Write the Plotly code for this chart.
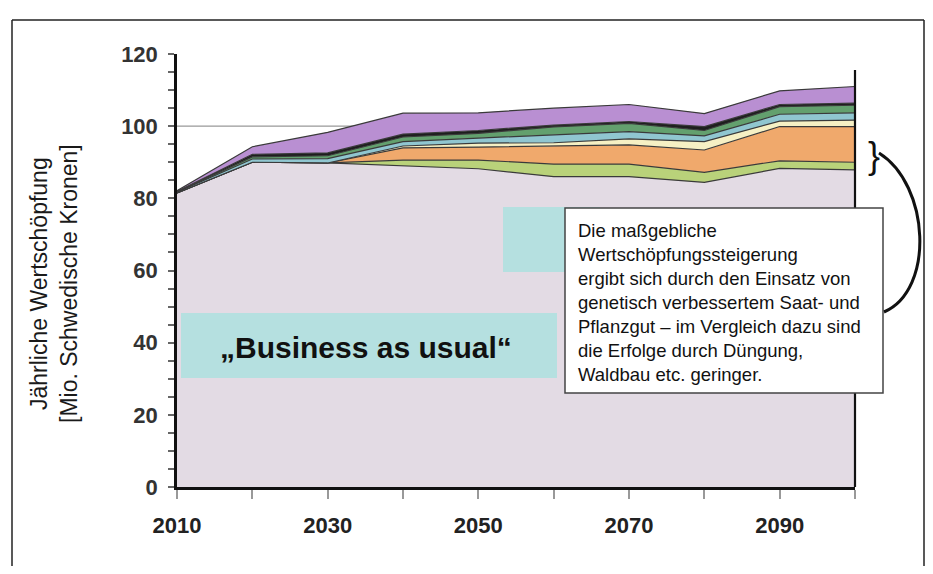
import plotly.graph_objects as go

# ---------------- data ----------------
years = [2010, 2020, 2030, 2040, 2050, 2060, 2070, 2080, 2090, 2100]
base_bau = [81.5, 90.0, 89.8, 88.9, 88.2, 86.0, 86.0, 84.4, 88.3, 87.9]
lime = [0.0, 0.0, 0.0, 1.7, 2.4, 3.5, 3.5, 2.8, 2.1, 2.1]
orange = [0.0, 0.0, 0.0, 3.4, 3.6, 5.0, 5.3, 6.2, 9.5, 9.9]
pale_yellow = [0.0, 0.0, 0.0, 0.5, 1.1, 0.9, 1.7, 2.3, 1.5, 1.8]
light_blue = [0.2, 0.9, 1.2, 1.2, 1.4, 2.1, 2.0, 1.6, 1.9, 2.0]
green = [0.1, 0.6, 0.8, 1.3, 1.3, 2.3, 2.3, 1.5, 2.1, 2.1]
black = [0.1, 0.7, 0.8, 0.8, 0.8, 0.5, 0.5, 1.1, 0.6, 0.6]
purple = [0.2, 2.1, 5.7, 5.8, 4.9, 4.7, 4.7, 3.6, 3.8, 4.6]

x_tick_vals = [2010, 2020, 2030, 2040, 2050, 2060, 2070, 2080, 2090, 2100]
x_tick_text = ["2010", "", "2030", "", "2050", "", "2070", "", "2090", ""]
y_tick_vals = [0, 20, 40, 60, 80, 100, 120]

y_title = "Jährliche Wertschöpfung<br>[Mio. Schwedische Kronen]"
bau_label = "„Business as usual“"
callout_lines = [
    "Die maßgebliche",
    "Wertschöpfungssteigerung",
    "ergibt sich durch den Einsatz von",
    "genetisch verbessertem Saat- und",
    "Pflanzgut – im Vergleich dazu sind",
    "die Erfolge durch Düngung,",
    "Waldbau etc. geringer.",
]

# ---------------- layout geometry (page pixels) ----------------
OFF = 8  # page body margin
W, H = 933 - OFF, 574 - 2 * OFF
L, R, T, B = 177, 855, 54, 487
PW, PH = R - L, B - T


def px(x):
    return (x - L) / PW


def py(y):
    return (B - y) / PH


layers = [
    (base_bau, "#e3dbe4"),
    (lime, "#b9d27a"),
    (orange, "#f0a96c"),
    (pale_yellow, "#f6f0c4"),
    (light_blue, "#90c6d0"),
    (green, "#63a06e"),
    (black, "#1e1e1e"),
    (purple, "#b98fd2"),
]

fig = go.Figure()
for vals, col in layers:
    fig.add_trace(go.Scatter(
        x=years, y=vals, mode="lines", stackgroup="s",
        line=dict(color="#3a3a3a", width=1.2),
        fillcolor=col, hoverinfo="skip", showlegend=False,
    ))

font_main = "Liberation Sans, Arial, sans-serif"

shapes = [
    # outer frame (left, top, right edges)
    dict(type="line", xref="paper", yref="paper",
         x0=px(12), x1=px(12), y0=py(600), y1=py(20),
         line=dict(color="#222", width=1.5)),
    dict(type="line", xref="paper", yref="paper",
         x0=px(12), x1=px(924), y0=py(20), y1=py(20),
         line=dict(color="#222", width=1.5)),
    dict(type="line", xref="paper", yref="paper",
         x0=px(924), x1=px(924), y0=py(600), y1=py(20),
         line=dict(color="#222", width=1.5)),
    # horizontal line at 100
    dict(type="line", xref="paper", yref="y", x0=0, x1=1, y0=100, y1=100,
         line=dict(color="#999", width=1.2), layer="below"),
    # right border of plot
    dict(type="line", xref="paper", yref="paper", x0=1, x1=1, y0=0, y1=py(70),
         line=dict(color="#111", width=2.2)),
    # teal box behind BAU text
    dict(type="rect", xref="paper", yref="paper",
         x0=px(181), x1=px(557), y0=py(378), y1=py(313),
         fillcolor="#b5e0e0", line=dict(width=0)),
    # teal box behind callout
    dict(type="rect", xref="paper", yref="paper",
         x0=px(503), x1=px(600), y0=py(272), y1=py(207),
         fillcolor="#b5e0e0", line=dict(width=0)),
    # callout white box
    dict(type="rect", xref="paper", yref="paper",
         x0=px(565), x1=px(883), y0=py(393), y1=py(208),
         fillcolor="white", line=dict(color="#444", width=1.5)),
    # curved connector from brace to callout
    dict(type="path", xref="paper", yref="paper",
         path=(f"M {px(879)},{py(153)} C {px(930)},{py(185)} "
               f"{px(935)},{py(290)} {px(884)},{py(312)}"),
         line=dict(color="#111", width=3)),
]

annotations = [
    dict(xref="paper", yref="paper", x=px(54), y=py(284),
         text=y_title, textangle=-90, showarrow=False,
         xanchor="center", yanchor="middle",
         font=dict(family=font_main, size=23, color="#1a1a1a")),
    dict(xref="paper", yref="paper", x=px(366), y=py(347),
         text=bau_label, showarrow=False, xanchor="center", yanchor="middle",
         font=dict(family=font_main, size=30, color="#111", weight="bold")),
    dict(xref="paper", yref="paper", x=px(576), y=py(302),
         text="<br>".join(callout_lines), showarrow=False, align="left",
         xanchor="left", yanchor="middle",
         font=dict(family=font_main, size=18.5, color="#111")),
    dict(xref="paper", yref="paper", x=px(874), y=py(155),
         text="}", showarrow=False, xanchor="center", yanchor="middle",
         font=dict(family=font_main, size=36, color="#111")),
]

fig.update_layout(
    width=W, height=H,
    margin=dict(l=L - OFF, r=(W + OFF) - R, t=T - OFF, b=(H + OFF) - B),
    paper_bgcolor="white", plot_bgcolor="white",
    shapes=shapes, annotations=annotations,
    showlegend=False,
    xaxis=dict(
        range=[2010, 2100], tickvals=x_tick_vals, ticktext=x_tick_text,
        ticks="outside", ticklen=9, tickcolor="#999", tickwidth=1.5,
        showline=True, linecolor="#111", linewidth=2.5,
        showgrid=False, zeroline=False, ticklabelstandoff=8,
        tickfont=dict(family=font_main, size=22, color="#222", weight="bold"),
    ),
    yaxis=dict(
        range=[0, 120], tickvals=y_tick_vals,
        ticks="outside", ticklen=6, tickcolor="#666", tickwidth=1.5,
        minor=dict(dtick=5, ticks="outside", ticklen=6, tickcolor="#666", tickwidth=1.5, showgrid=False),
        showline=True, linecolor="#111", linewidth=2.5,
        showgrid=False, zeroline=False, ticklabelstandoff=6,
        tickfont=dict(family=font_main, size=22, color="#333", weight="bold"),
    ),
)

fig.write_html("out.html")
